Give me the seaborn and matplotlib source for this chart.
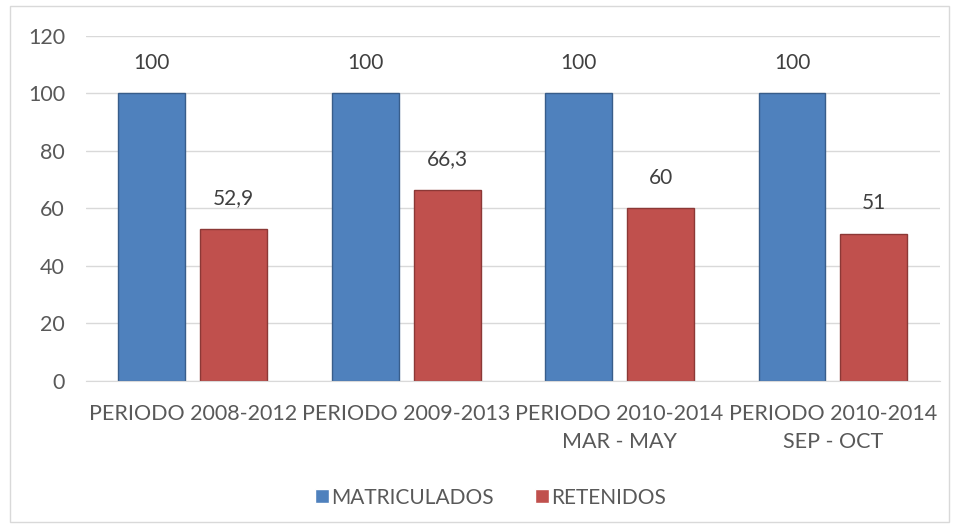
import pandas as pd
import matplotlib
matplotlib.use("Agg")
import matplotlib.pyplot as plt
import seaborn as sns
from matplotlib.patches import Rectangle

periodos = ["PERIODO 2008-2012", "PERIODO 2009-2013",
            "PERIODO 2010-2014\nMAR - MAY", "PERIODO 2010-2014\nSEP - OCT"]
matriculados = [100, 100, 100, 100]
retenidos = [52.9, 66.3, 60, 51]
series = ["MATRICULADOS", "RETENIDOS"]
yticks = [0, 20, 40, 60, 80, 100, 120]

df = pd.DataFrame({
    "periodo": periodos * 2,
    "serie": [series[0]] * 4 + [series[1]] * 4,
    "valor": matriculados + retenidos,
})

sns.set_style("white")
plt.rcParams["font.family"] = ["Lato", "DejaVu Sans"]
text_color = "#595959"

fig = plt.figure(figsize=(9.55, 5.29), dpi=100)
ax = fig.add_axes([0.09, 0.28, 0.894, 0.652])

palette = {"MATRICULADOS": "#4F81BD", "RETENIDOS": "#C0504D"}
edges = {"MATRICULADOS": "#385D8A", "RETENIDOS": "#8C3836"}
sns.barplot(data=df, x="periodo", y="valor", hue="serie", palette=palette,
            width=0.768, gap=0.183, ax=ax, saturation=1, legend=True)

for cont, s in zip(ax.containers, series):
    for bar in cont:
        bar.set_edgecolor(edges[s])
        bar.set_linewidth(1.0)
    labels = [f"{v:g}".replace(".", ",") for v in cont.datavalues]
    ax.bar_label(cont, labels=labels, padding=15, fontsize=15, color="#404040")

ax.set_ylim(0, 120)
ax.set_yticks(yticks)
ax.yaxis.grid(True, color="#D9D9D9", linewidth=1)
ax.set_axisbelow(True)
for side in ["left", "right", "top"]:
    ax.spines[side].set_visible(False)
ax.spines["bottom"].set_color("#D9D9D9")
ax.tick_params(axis="both", length=0, labelsize=15.5, colors=text_color)
ax.tick_params(axis="y", pad=15)
ax.tick_params(axis="x", pad=17)
for lab in ax.get_xticklabels():
    lab.set_linespacing(1.45)
ax.set_xlabel("")
ax.set_ylabel("")

ax.legend(loc="upper center", bbox_to_anchor=(0.474, -0.255), ncol=2, frameon=False,
          fontsize=15, handlelength=0.65, handleheight=0.65, handletextpad=0.1,
          columnspacing=2.0, labelcolor=text_color)

fig.patches.append(Rectangle((0.01, 0.013), 0.984, 0.975, transform=fig.transFigure,
                             fill=False, edgecolor="#D9D9D9", linewidth=1))

fig.savefig("out.png", dpi=100)
